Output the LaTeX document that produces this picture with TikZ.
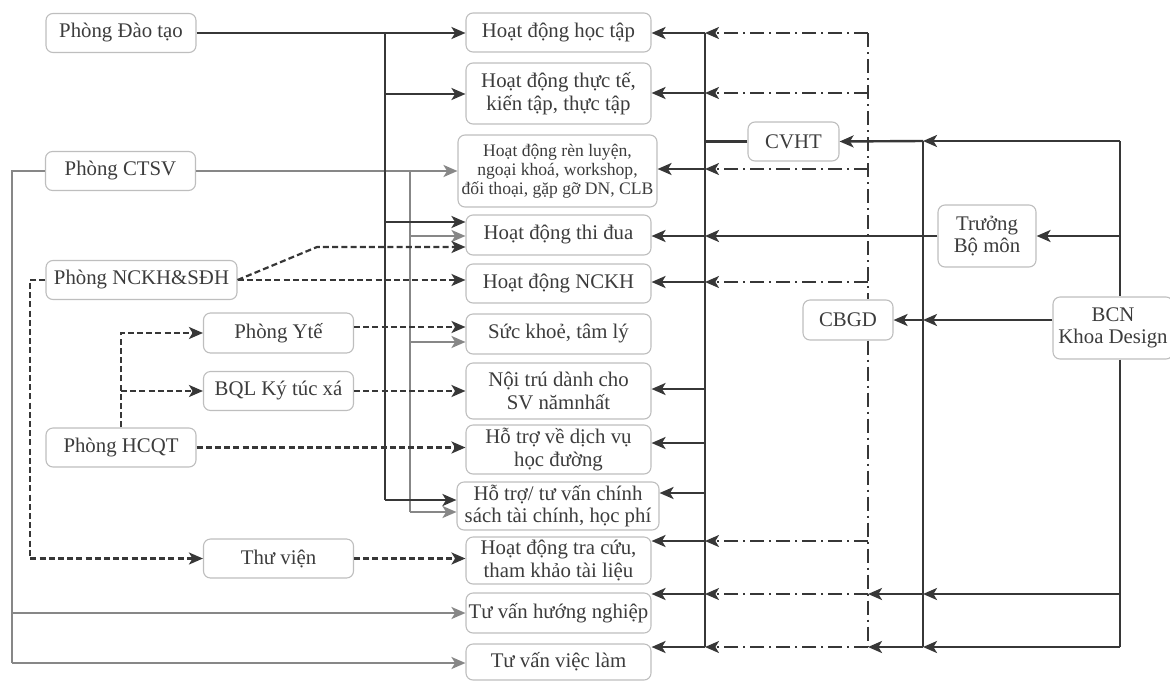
\documentclass[tikz,border=0pt]{standalone}
\usepackage{fontspec}
\setmainfont{Liberation Serif}
\usepackage{tikz}
\usetikzlibrary{arrows.meta}
\definecolor{lnDark}{RGB}{55,55,55}
\definecolor{lnGray}{RGB}{135,135,135}
\definecolor{boxEdge}{RGB}{190,190,190}
\definecolor{txtDark}{RGB}{60,60,60}

\begin{document}
\begin{tikzpicture}[x=0.5pt, y=-0.5pt, font=\fontsize{10.4}{11.2}\selectfont,
  >={Stealth[length=7pt,width=6pt,inset=1.8pt]},
  box/.style={draw=boxEdge, line width=0.55pt, rounded corners=3.5pt, align=center, text=txtDark, fill=white, inner sep=1pt},
  lbox/.style={box, minimum width=75pt, minimum height=19.5pt},
  mbox/.style={box, minimum width=92.5pt, minimum height=19.5pt},
  dk/.style={draw=lnDark, line width=1.2pt},
  gr/.style={draw=lnGray, line width=1.1pt},
  dsh/.style={dk, line width=1.1pt, dash pattern=on 3pt off 1.6pt},
  dd/.style={dk, line width=0.9pt, dash pattern=on 7pt off 2.5pt on 1pt off 2.5pt}]
\useasboundingbox (0,0) rectangle (1170,680);
% left offices
\node[lbox] (dt) at (121,33) {Phòng Đào tạo};
\node[lbox] (ctsv) at (120.5,171) {Phòng CTSV};
\node[lbox, minimum width=95.5pt] (nckh) at (141.5,280) {Phòng NCKH\&SĐH};
\node[lbox, minimum height=20pt] (yte) at (278.5,333) {Phòng Ytế};
\node[lbox] (bql) at (278.5,391) {BQL Ký túc xá};
\node[lbox] (hcqt) at (121,447.5) {Phòng HCQT};
\node[lbox] (tv) at (278.5,558.5) {Thư viện};
% activities
\node[mbox] (ht) at (558.5,32.5) {Hoạt động học tập};
\node[mbox, minimum height=30.5pt] (ttt) at (558.5,93.5) {Hoạt động thực tế,\\kiến tập, thực tập};
\node[mbox, minimum width=99.5pt, minimum height=36pt, font=\fontsize{8.8}{9.6}\selectfont] (rl) at (557.5,171) {Hoạt động rèn luyện,\\ngoại khoá, workshop,\\đối thoại, gặp gỡ DN, CLB};
\node[mbox, minimum height=20pt] (td) at (558.5,235) {Hoạt động thi đua};
\node[mbox] (nc) at (558.5,283.5) {Hoạt động NCKH};
\node[mbox, minimum height=20pt] (sk) at (558.5,334) {Sức khoẻ, tâm lý};
\node[mbox, minimum height=28pt] (nt) at (558.5,391) {Nội trú dành cho\\SV nămnhất};
\node[mbox, minimum height=24.5pt] (dv) at (558.5,449.5) {Hỗ trợ về dịch vụ\\học đường};
\node[mbox, minimum width=101pt, minimum height=24pt] (tc) at (558,506) {Hỗ trợ/ tư vấn chính\\sách tài chính, học phí};
\node[mbox, minimum height=23.5pt] (tcu) at (558.5,560.5) {Hoạt động tra cứu,\\tham khảo tài liệu};
\node[mbox, minimum height=20pt] (hn) at (558.5,613) {Tư vấn hướng nghiệp};
\node[mbox, minimum height=18pt] (vl) at (558.5,662) {Tư vấn việc làm};
% faculty side
\node[box, minimum width=45.5pt, minimum height=19.5pt] (cvht) at (793.5,141.5) {CVHT};
\node[box, minimum width=49pt, minimum height=31pt] (tbm) at (987,236) {Trưởng\\Bộ môn};
\node[box, minimum width=45pt, minimum height=20pt] (cbgd) at (848,320) {CBGD};
\node[box, minimum width=60pt, minimum height=31pt] (bcn) at (1113,328) {BCN\\Khoa Design};

% Dao tao bus
\coordinate (ba1) at (385,33);
\coordinate (ba2) at (385,94);
\coordinate (ba3) at (385,222);
\coordinate (ba4) at (385,500);
% CTSV bus
\coordinate (bb1) at (410,171);
\coordinate (bb2) at (410,236);
\coordinate (bb3) at (410,342);
\coordinate (bb4) at (410,512);
\coordinate (bg1) at (12,613);
\coordinate (bg2) at (12,663);
\draw[gr,->] (ctsv.east) -- (rl.west);
\draw[gr] (bb1) -- (bb4);
\draw[gr,->] (bb2) -- (bb2 -| td.west);
\draw[gr,->] (bb3) -- (bb3 -| sk.west);
\draw[gr,->] (bb4) -- (bb4 -| tc.west);
\draw[gr] (ctsv.west) -| (bg2);
\draw[gr,->] (bg1) -- (bg1 -| hn.west);
\draw[gr,->] (bg2) -- (bg2 -| vl.west);
\draw[dk,->] (dt.east) -- (dt.east -| ht.west);
\draw[dk] (ba1) -- (ba4);
\draw[dk,->] (ba2) -- (ba2 -| ttt.west);
\draw[dk,->] (ba3) -- (ba3 -| td.west);
\draw[dk,->] (ba4) -- (ba4 -| tc.west);

% dashed links
\coordinate (nk1) at (317,247);
\coordinate (nk2) at (30,558.5);
\coordinate (yt1) at ([yshift=3pt]yte.east);
\draw[dsh,->] (nckh.east) -- (nk1) -- (nk1 -| td.west);
\draw[dsh,->] (nckh.east) -- (nckh.east -| nc.west);
\draw[dsh,->] (nckh.west) -| (nk2) -- (tv.west);
\draw[dsh,->] (tv.east) -- (tv.east -| tcu.west);
\draw[dsh,->] (hcqt.north) |- (yte.west);
\draw[dsh,->] (hcqt.north |- bql.west) -- (bql.west);
\draw[dsh,->] (hcqt.east) -- (hcqt.east -| dv.west);
\draw[dsh,->] (yt1) -- (yt1 -| sk.west);
\draw[dsh,->] (bql.east) -- (bql.east -| nt.west);

% CVHT bus
\coordinate (cTop) at (705,33);
\coordinate (cBot) at (705,647);
\draw[dk] (cTop) -- (cBot);
\draw[dk] (cvht.west) -- (cvht.west -| cTop);
\foreach \yy/\nd in {33/ht, 93/ttt, 169/rl, 236/td, 282/nc, 389/nt, 443/dv, 493/tc, 541/tcu, 594/hn, 647/vl}{
  \coordinate (c\nd) at (705,\yy);
  \draw[dk,->] (c\nd) -- (c\nd -| \nd.east);
}
% CBGD dash-dot
\coordinate (dTop) at (868,33);
\coordinate (dBot) at (868,647);
\draw[dd] (dTop) -- (dTop |- cbgd.north);
\draw[dd] (dBot |- cbgd.south) -- (dBot);
\foreach \nd in {ht, ttt, rl, nc, tcu, hn, vl}
  \draw[dd,->] (c\nd -| dTop) -- (c\nd);

% BCN buses
\coordinate (eTop) at (923,141);
\coordinate (eBot) at (923,647);
\coordinate (eC) at (923,320);
\coordinate (fTop) at (1120,141);
\coordinate (fBot) at (1120,647);
\draw[dk] (eTop) -- (eBot);
\draw[dk] (fTop) -- (fTop |- bcn.north);
\draw[dk] (fBot |- bcn.south) -- (fBot);
\draw[dk,->] (fTop) -- (eTop);
\draw[dk,->] (eTop) -- (cvht.east);
\draw[dk,->] (fTop |- tbm.east) -- (tbm.east);
\draw[dk,->] (tbm.west) -- (ctd);
\draw[dk,->] (eC -| bcn.west) -- (eC);
\draw[dk,->] (eC) -- (cbgd.east);
\foreach \nd in {hn, vl}{
  \draw[dk,->] (c\nd -| fTop) -- (c\nd -| eTop);
  \draw[dk,->] (c\nd -| eTop) -- (c\nd -| dTop);
}
\end{tikzpicture}
\end{document}
